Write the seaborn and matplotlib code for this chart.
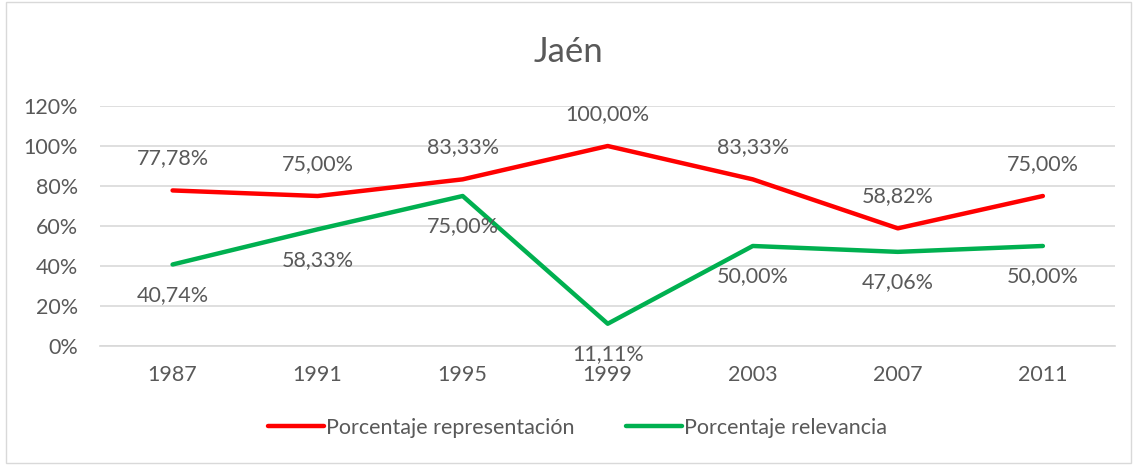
import pandas as pd
import matplotlib
matplotlib.use("Agg")
import matplotlib.pyplot as plt
import seaborn as sns
from matplotlib.patches import Rectangle

# data
years = ["1987", "1991", "1995", "1999", "2003", "2007", "2011"]
representacion = [77.78, 75.00, 83.33, 100.00, 83.33, 58.82, 75.00]
relevancia = [40.74, 58.33, 75.00, 11.11, 50.00, 47.06, 50.00]

series_names = ["Porcentaje representación", "Porcentaje relevancia"]
colors = ["#FF0000", "#00B050"]

df = pd.DataFrame({
    "Año": years * 2,
    "Valor": [v / 100 for v in representacion + relevancia],
    "Serie": [series_names[0]] * len(years) + [series_names[1]] * len(years),
})

sns.set_theme(style="white")
plt.rcParams["font.family"] = ["Lato", "DejaVu Sans"]
text_color = "#595959"
fs = 15.5

fig = plt.figure(figsize=(11.37, 4.65), dpi=100)
ax = fig.add_axes([0.088, 0.256, 0.893, 0.516])

sns.lineplot(data=df, x="Año", y="Valor", hue="Serie", palette=colors,
             linewidth=3.2, ax=ax, legend=False, sort=False)
for line in ax.lines:
    line.set_solid_capstyle("round")
    line.set_solid_joinstyle("round")

ax.set_xlim(-0.5, len(years) - 0.5)
ax.set_ylim(0, 1.2)
ax.set_yticks([0, 0.2, 0.4, 0.6, 0.8, 1.0, 1.2])
ax.set_yticklabels(["0%", "20%", "40%", "60%", "80%", "100%", "120%"])
ax.yaxis.grid(True, color="#D9D9D9", linewidth=1.2)
ax.set_axisbelow(True)
for s in ax.spines.values():
    s.set_visible(False)
ax.spines["bottom"].set_visible(True)
ax.spines["bottom"].set_color("#D9D9D9")
ax.tick_params(axis="both", length=0, labelsize=fs, labelcolor=text_color)
ax.tick_params(axis="x", pad=14)
ax.tick_params(axis="y", pad=16)
ax.set_xlabel("")
ax.set_ylabel("")

# data labels
fmt = lambda v: f"{v:.2f}".replace(".", ",") + "%"
for i, v in enumerate(representacion):
    ax.annotate(fmt(v), (i, v / 100), xytext=(0, 23), textcoords="offset points",
                ha="center", va="center", fontsize=fs, color=text_color)
for i, v in enumerate(relevancia):
    ax.annotate(fmt(v), (i, v / 100), xytext=(0, -22), textcoords="offset points",
                ha="center", va="center", fontsize=fs, color=text_color)

fig.text(0.5, 1 - 52 / 465, "Jaén", ha="center", va="center",
         fontsize=25, color=text_color)

handles = [plt.Line2D([0], [0], color=c, linewidth=3.2, solid_capstyle="round")
           for c in colors]
fig.legend(handles, series_names, loc="center", bbox_to_anchor=(0.508, 1 - 428 / 465),
           ncol=2, frameon=False, fontsize=fs, labelcolor=text_color,
           handlelength=2.6, handletextpad=0.1, columnspacing=2.4)

fig.patches.append(Rectangle((0.005, 0.005), 0.99, 0.99, transform=fig.transFigure,
                             fill=False, edgecolor="#D9D9D9", linewidth=1))

fig.savefig("out.png", dpi=100)
